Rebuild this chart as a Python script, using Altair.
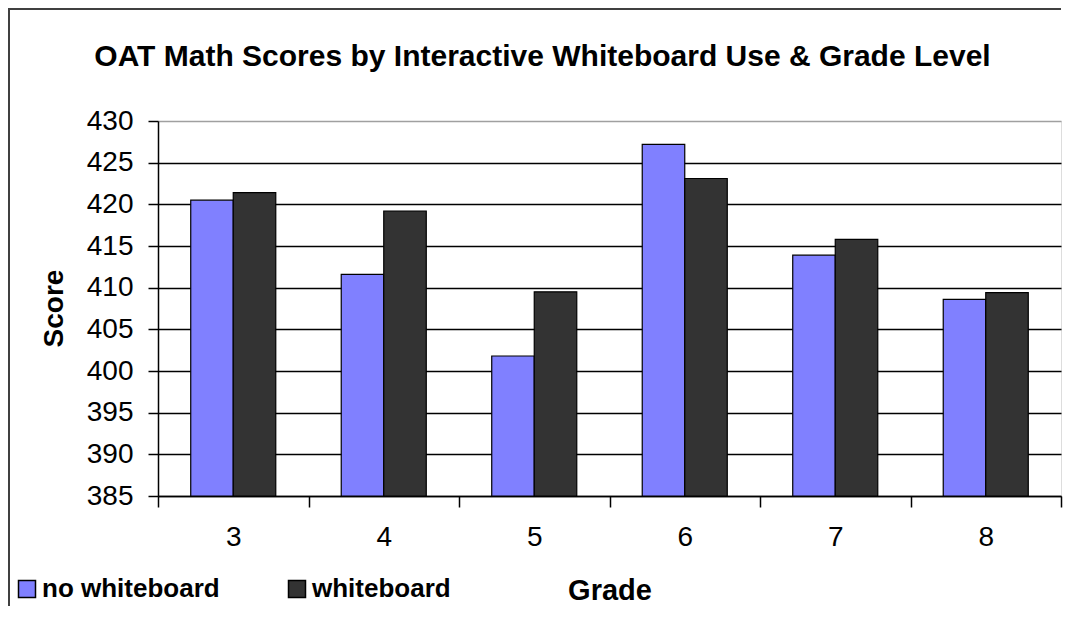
import altair as alt
import pandas as pd

grades = ["3", "4", "5", "6", "7", "8"]
series = ["no whiteboard", "whiteboard"]
no_whiteboard = [420.5, 411.6, 401.8, 427.2, 413.9, 408.6]
whiteboard = [421.4, 419.2, 409.5, 423.1, 415.8, 409.4]
colors = ["#8080FF", "#333333"]
y_ticks = [385, 390, 395, 400, 405, 410, 415, 420, 425, 430]
title_text = "OAT Math Scores by Interactive Whiteboard Use & Grade Level"

rows = []
for g, a, b in zip(grades, no_whiteboard, whiteboard):
    rows.append({"Grade": g, "Series": series[0], "Score": a})
    rows.append({"Grade": g, "Series": series[1], "Score": b})
df = pd.DataFrame(rows)

FONT = "Liberation Sans"
W, H = 903, 375
Y_MIN = 385

bars = alt.Chart(df).mark_bar(stroke="black", strokeWidth=1.2).encode(
    x=alt.X(
        "Grade:N", sort=grades,
        scale=alt.Scale(paddingInner=0, paddingOuter=0),
        axis=alt.Axis(
            title="Grade", labelAngle=0, tickBand="extent", tickSize=11,
            tickColor="black", tickWidth=1.5, domainColor="black", domainWidth=1.5,
            labelFontSize=28, labelFont=FONT, labelColor="black", labelPadding=16,
            titleFont=FONT, titleFontSize=29, titleFontWeight="bold", titleColor="black",
            titleX=W / 2, titleY=103, titleAlign="center", titleBaseline="alphabetic",
            grid=False,
        ),
    ),
    xOffset=alt.XOffset("Series:N", sort=series,
                        scale=alt.Scale(paddingInner=0, paddingOuter=0.77)),
    y=alt.Y(
        "Score:Q",
        scale=alt.Scale(domain=[385, 430], zero=False, nice=False),
        axis=alt.Axis(
            values=y_ticks, title="Score", tickSize=10, tickColor="black", tickWidth=1.5,
            domainColor="black", domainWidth=1.5,
            gridColor=alt.condition("datum.value == 430", alt.value("#a0a0a0"), alt.value("black")),
            gridWidth=1.5,
            labelFont=FONT, labelFontSize=28, labelColor="black", labelPadding=15,
            titleFont=FONT, titleFontSize=28, titleFontWeight="bold", titleColor="black",
            titleAngle=270, titleX=-96, titleY=187, titleAlign="center",
            titleBaseline="alphabetic",
        ),
    ),
    y2=alt.datum(Y_MIN),
    color=alt.Color(
        "Series:N", sort=series,
        scale=alt.Scale(domain=series, range=colors),
        legend=alt.Legend(
            title=None, orient="none", legendX=-144, legendY=455,
            direction="horizontal", columns=2, symbolType="square", symbolSize=289,
            symbolStrokeColor="black", symbolStrokeWidth=1.5,
            labelFont=FONT, labelFontSize=26, labelFontWeight="bold", labelColor="black",
            labelOffset=2, columnPadding=64, padding=0, labelLimit=400,
        ),
    ),
)

one = pd.DataFrame({"z": [0]})
left_line = alt.Chart(one).mark_rect(color="#404040").encode(
    x=alt.value(-150), x2=alt.value(-148), y=alt.value(-113), y2=alt.value(H + 120)
)
top_line = alt.Chart(one).mark_rect(color="#404040").encode(
    x=alt.value(-150), x2=alt.value(W), y=alt.value(-113), y2=alt.value(-111)
)
title = alt.Chart(one).mark_text(
    text=title_text, font=FONT, fontSize=30, fontWeight="bold", color="black",
    align="center", baseline="alphabetic"
).encode(x=alt.value(384.5), y=alt.value(-55))

chart = alt.layer(left_line, top_line, title, bars).properties(
    width=W, height=H,
    padding={"left": 150, "top": 113, "right": 3, "bottom": 110},
    autosize=alt.AutoSizeParams(type="none"),
).configure_view(stroke="#a0a0a0", strokeWidth=2).configure(background="white")

chart.save("out.html", embed_options={"renderer": "svg", "actions": False})
